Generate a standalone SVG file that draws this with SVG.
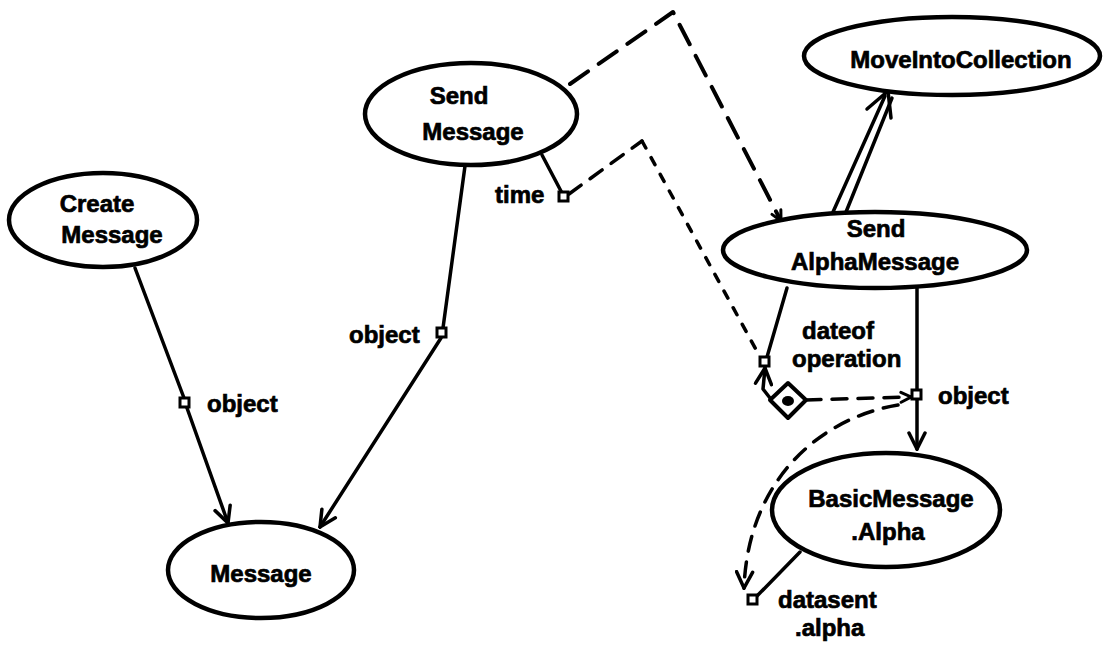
<svg xmlns="http://www.w3.org/2000/svg" width="1103" height="649" viewBox="0 0 1103 649">
  <style>
    .node { fill: #fff; stroke: #000; stroke-width: 4.5; }
    .lbl { font-family: "Liberation Sans", Arial, sans-serif; font-weight: bold; font-size: 24px; fill: #000; stroke: #000; stroke-width: 0.7; }
    .mid { text-anchor: middle; }
    .edge { fill: none; stroke: #000; stroke-width: 3.5; stroke-linecap: round; stroke-linejoin: round; }
    .dash-long { stroke-dasharray: 22 13; stroke-width: 4; }
    .dash-mid { stroke-dasharray: 15 11; }
    .dash-short { stroke-dasharray: 8 11; }
    .port { fill: #fff; stroke: #000; stroke-width: 3; }
  </style>
  <defs>
    <marker id="arrow" viewBox="0 0 20 20" refX="18" refY="10" markerWidth="20" markerHeight="20" markerUnits="userSpaceOnUse" orient="auto">
      <path d="M2,2 L18,10 L2,18" fill="none" stroke="#000" stroke-width="3.5" stroke-dasharray="none" stroke-linecap="round"/>
    </marker>
    <marker id="arrow-s" viewBox="0 0 14 14" refX="12" refY="7" markerWidth="14" markerHeight="14" markerUnits="userSpaceOnUse" orient="auto">
      <path d="M2,2 L12,7 L2,12" fill="none" stroke="#000" stroke-width="3" stroke-dasharray="none" stroke-linecap="round"/>
    </marker>
  </defs>
  <rect width="1103" height="649" fill="#fff"/>

  <g id="connectors">
    <!-- CreateMessage -> Message -->
    <path class="edge" d="M135 268 L184 398"/>
    <path class="edge" d="M187 408 L228 523" marker-end="url(#arrow)"/>
    <!-- SendMessage -> Message -->
    <path class="edge" d="M465 166 L443 328"/>
    <path class="edge" d="M441 338 L320 527" marker-end="url(#arrow)"/>
    <!-- SendMessage time port -->
    <path class="edge" d="M542 155 L562 193"/>
    <!-- time -> dateof operation -->
    <path class="edge dash-mid" d="M569 194 L642 141"/>
    <path class="edge dash-short" d="M642 141 L759 355"/>
    <!-- SendMessage -> SendAlphaMessage -->
    <path class="edge dash-long" d="M570 84 L673 12 L781 221" marker-end="url(#arrow-s)"/>
    <!-- SendAlphaMessage => MoveIntoCollection -->
    <path class="edge" d="M833 212 L885 96"/>
    <path class="edge" d="M846 212 L892 98"/>
    <path class="edge" d="M867 109 L888 91 L891 118"/>
    <!-- SendAlphaMessage -> dateof operation port -->
    <path class="edge" d="M787 288 L767 357"/>
    <!-- SendAlphaMessage -> BasicMessage.Alpha -->
    <path class="edge" d="M917 288 L917 449" marker-end="url(#arrow)"/>
    <!-- diamond -> dateof operation port -->
    <path class="edge" d="M770 398 L763 389 L765 368" marker-end="url(#arrow)"/>
    <!-- diamond -> object port -->
    <path class="edge dash-mid" d="M806 400 L911 397" marker-end="url(#arrow-s)"/>
    <!-- object -> datasent.alpha -->
    <path class="edge dash-mid" d="M898 405 C 820 418, 748 480, 744 588" marker-end="url(#arrow)"/>
    <!-- BasicMessage.Alpha -> datasent port -->
    <path class="edge" d="M800 552 L757 596"/>
  </g>

  <g id="ports">
    <rect class="port" x="180" y="398" width="9" height="9"/>
    <rect class="port" x="437" y="328" width="9" height="9"/>
    <rect class="port" x="559" y="192" width="9" height="9"/>
    <rect class="port" x="760" y="357" width="9" height="9"/>
    <rect class="port" x="912" y="390" width="9" height="9"/>
    <rect class="port" x="748" y="595" width="9" height="9"/>
  </g>

  <g id="combine">
    <path d="M788 383 L806 400 L788 418 L770 400 Z" fill="#fff" stroke="#000" stroke-width="4" stroke-linejoin="round"/>
    <ellipse cx="788" cy="401" rx="6" ry="5" fill="#000"/>
  </g>

  <g id="create-message">
    <ellipse class="node" cx="103" cy="220" rx="94" ry="47"/>
    <text class="lbl mid" x="97" y="212">Create</text>
    <text class="lbl mid" x="112" y="243">Message</text>
  </g>
  <g id="message">
    <ellipse class="node" cx="261" cy="570" rx="93" ry="48"/>
    <text class="lbl mid" x="261" y="582">Message</text>
  </g>
  <g id="send-message">
    <ellipse class="node" cx="471" cy="114" rx="106" ry="51"/>
    <text class="lbl mid" x="459" y="104">Send</text>
    <text class="lbl mid" x="473" y="140">Message</text>
  </g>
  <g id="move-into-collection">
    <ellipse class="node" cx="952" cy="56" rx="148" ry="39"/>
    <text class="lbl mid" x="961" y="68">MoveIntoCollection</text>
  </g>
  <g id="send-alpha-message">
    <ellipse class="node" cx="875" cy="250" rx="152" ry="38"/>
    <text class="lbl mid" x="876" y="237">Send</text>
    <text class="lbl mid" x="875" y="270">AlphaMessage</text>
  </g>
  <g id="basic-message-alpha">
    <ellipse class="node" cx="886" cy="510" rx="114" ry="57"/>
    <text class="lbl mid" x="891" y="507">BasicMessage</text>
    <text class="lbl mid" x="888" y="540">.Alpha</text>
  </g>

  <g id="port-labels">
    <text class="lbl" x="207" y="412">object</text>
    <text class="lbl" x="349" y="343">object</text>
    <text class="lbl" x="495" y="203">time</text>
    <text class="lbl" x="802" y="339">dateof</text>
    <text class="lbl" x="792" y="367">operation</text>
    <text class="lbl" x="938" y="404">object</text>
    <text class="lbl" x="778" y="608">datasent</text>
    <text class="lbl" x="795" y="636">.alpha</text>
  </g>
</svg>
